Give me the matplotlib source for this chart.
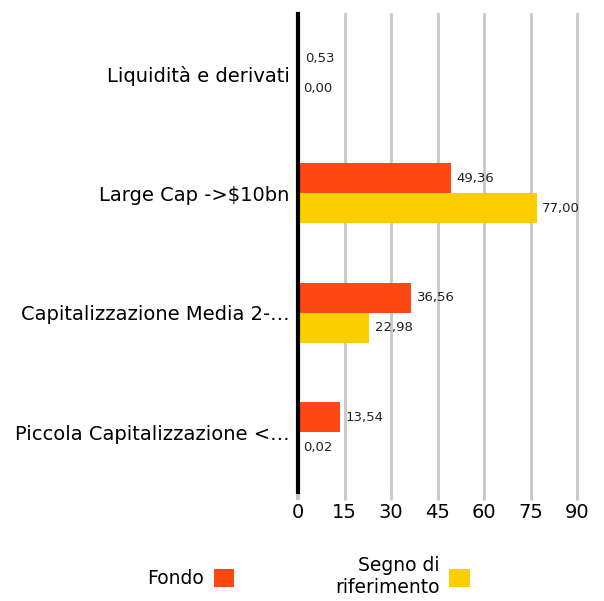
import matplotlib
matplotlib.use("Agg")
import matplotlib.pyplot as plt
import numpy as np

categories = ["Liquidità e derivati", "Large Cap ->$10bn",
              "Capitalizzazione Media 2-…", "Piccola Capitalizzazione <…"]
fondo = [0.53, 49.36, 36.56, 13.54]
riferimento = [0.00, 77.00, 22.98, 0.02]
series_names = ["Fondo", "Segno di\nriferimento"]
xticks = [0, 15, 30, 45, 60, 75, 90]

c_fondo = "#FF4713"
c_rif = "#FFCE00"

plt.rcParams['font.family'] = ['DejaVu Sans']

fig = plt.figure(figsize=(6.04, 6.01), dpi=100)
ax = fig.add_axes([298/604, 1 - 492/601, (577 - 298)/604, (492 - 14)/601])

y = np.arange(len(categories))
h = 0.25
b1 = ax.barh(y - h/2, fondo, height=h, color=c_fondo, label=series_names[0], zorder=3)
b2 = ax.barh(y + h/2, riferimento, height=h, color=c_rif, label=series_names[1], zorder=3)

for bars, vals in ((b1, fondo), (b2, riferimento)):
    for bar, v in zip(bars, vals):
        ax.annotate(f"{v:.2f}".replace(".", ","),
                    (bar.get_width(), bar.get_y() + bar.get_height()/2),
                    xytext=(4, 0), textcoords="offset points",
                    ha="left", va="center", fontsize=9.5, color="#222222")

ax.set_xlim(0, 90)
ax.set_ylim(3.5, -0.5)
ax.set_xticks(xticks)
ax.set_xticklabels([str(t) for t in xticks], fontsize=14)
ax.set_yticks(y)
ax.set_yticklabels(categories, fontsize=14)
ax.xaxis.grid(True, color="#c8c8c8", linewidth=2, zorder=0)
for gl in ax.get_xgridlines():
    gl.set_clip_on(False)
ax.tick_params(axis="x", length=6, width=2, color="#c8c8c8", pad=2)
ax.tick_params(axis="y", length=0, pad=6)
ax.get_xticklines()[0].set_color("black")
ax.get_xticklines()[0].set_markeredgewidth(3)
for s in ("top", "right", "bottom"):
    ax.spines[s].set_visible(False)
ax.spines["left"].set_linewidth(3)
ax.spines["left"].set_color("black")
ax.spines["left"].set_zorder(4)

leg = fig.legend(handles=[b1, b2], loc="center", bbox_to_anchor=(0.511, 0.04),
                 ncol=2, frameon=False, markerfirst=False, fontsize=13.5,
                 handlelength=1.1, handleheight=1.1, columnspacing=5.4, handletextpad=0.5)
leg.get_texts()[1].set_multialignment("right")

fig.savefig("out.png", dpi=100)
